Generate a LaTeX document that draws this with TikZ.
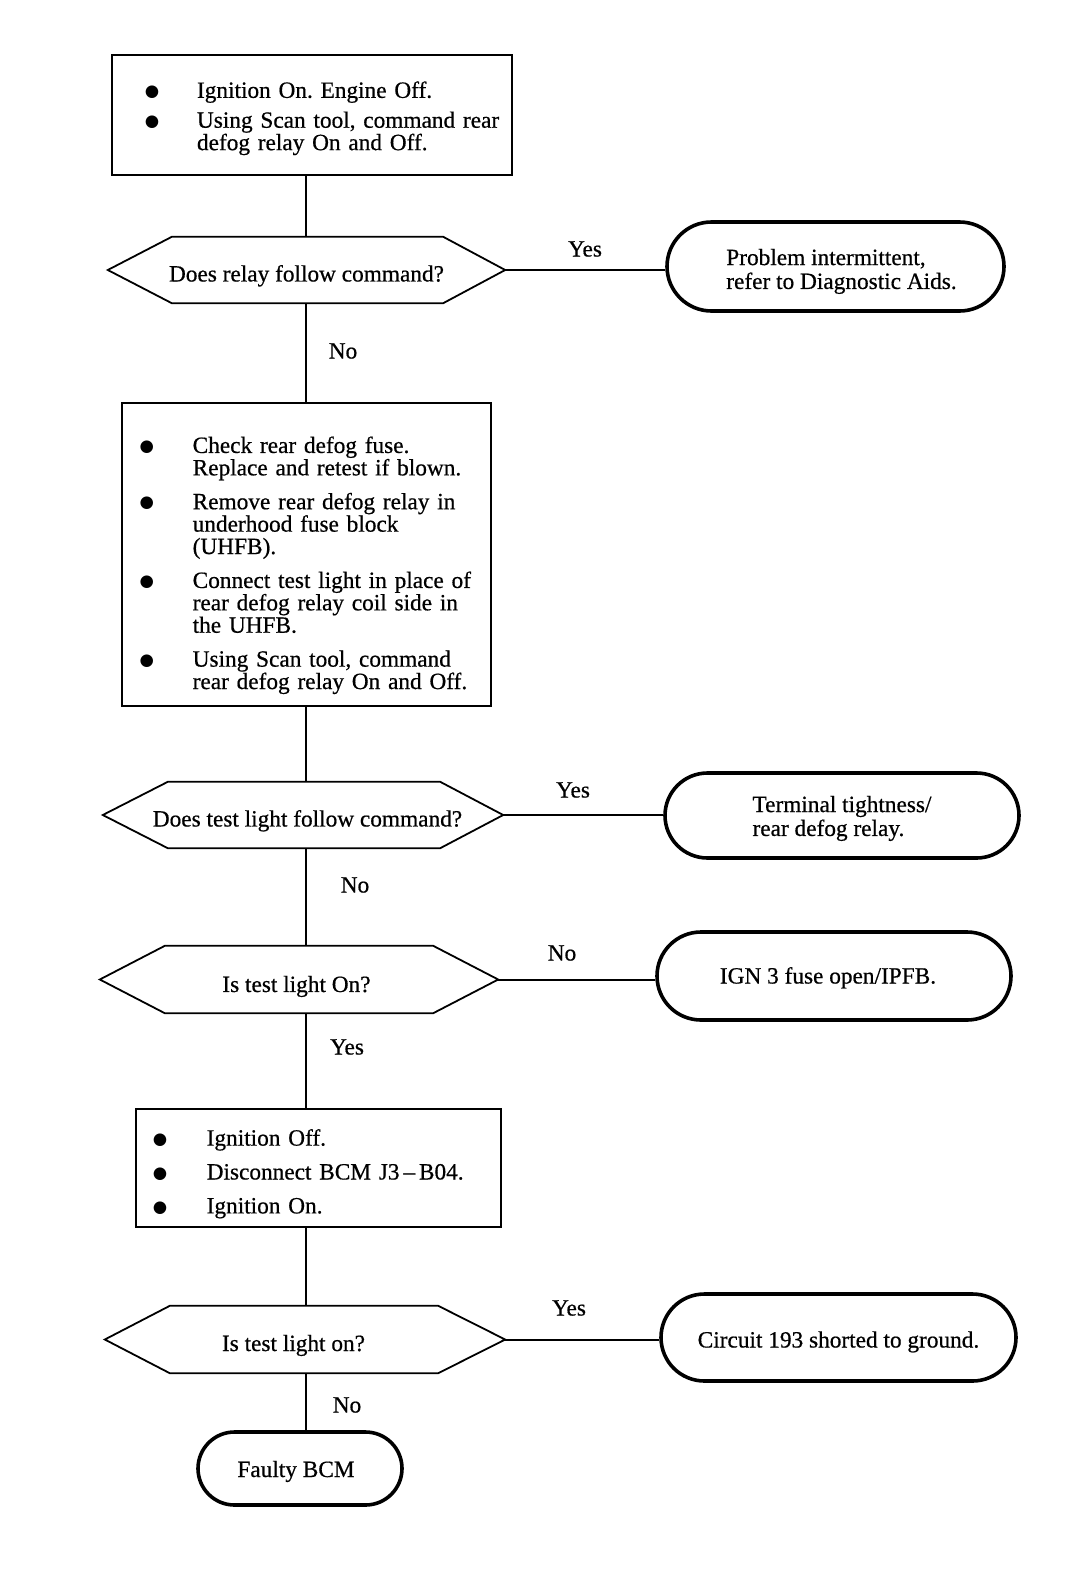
\documentclass[tikz,border=0pt]{standalone}
\usepackage{fontspec}
\setmainfont{Liberation Serif}[UprightFeatures={FakeBold=0.6}]
\newfontfamily\bulfont{DejaVu Sans}
\usetikzlibrary{shapes.misc,calc}
\frenchspacing
\newcommand{\bul}{\raisebox{\dimexpr 5.6pt-(\height-\depth)/2\relax}{\bulfont\fontsize{16.5}{16.5}\selectfont ●}}
% #1 distance to bullet centre, #2 distance from bullet centre to text
\newcommand{\bi}[2]{\hspace*{#1}\makebox[0pt]{\bul}\hspace*{#2}}
% lower the text of a node by #1
\newcommand{\dn}[1]{\rule{0pt}{\dimexpr 16pt+#1+#1\relax}}
\newcommand{\hexagonpath}[3]{%
  \draw[hexline] (#1.west) -- ([xshift=#2]#1.north west) -- ([xshift=-#3]#1.north east)
    -- (#1.east) -- ([xshift=-#3]#1.south east) -- ([xshift=#2]#1.south west) -- cycle;}
\tikzset{
  txt/.style={font=\fontsize{23.3}{22.4}\selectfont\frenchspacing},
  procbox/.style={txt, draw, line width=2.4pt, rectangle, inner xsep=2pt, inner ysep=0pt, align=left},
  hexnode/.style={txt, rectangle, draw=none, inner sep=0pt},
  hexline/.style={line width=1.8pt, line join=miter},
  term/.style={txt, rounded rectangle, draw, line width=3.6pt, inner sep=0pt},
  conn/.style={line width=2pt},
  lbl/.style={txt, inner sep=0pt},
}
\begin{document}
\begin{tikzpicture}[x=1pt,y=-1pt]
\useasboundingbox (0,0) rectangle (1088,1574);
\coordinate (spine) at (305.5,0);

% process boxes
\node[procbox, text width=396pt, minimum height=120pt] (b1) at (312,115)
 {\dn{3.5pt}\bi{38pt}{45pt}Ignition On. Engine Off.\\[7.5pt]
  \bi{38pt}{45pt}Using Scan tool, command rear\\
  \hspace*{83pt}defog relay On and Off.};

\node[procbox, text width=365pt, minimum height=303pt] (b2) at (306.5,554.5)
 {\dn{11pt}\bi{22.7pt}{46pt}Check rear defog fuse.\\
  \hspace*{68.7pt}Replace and retest if blown.\\[11.5pt]
  \bi{22.7pt}{46pt}Remove rear defog relay in\\
  \hspace*{68.7pt}underhood fuse block\\
  \hspace*{68.7pt}(UHFB).\\[11.5pt]
  \bi{22.7pt}{46pt}Connect test light in place of\\
  \hspace*{68.7pt}rear defog relay coil side in\\
  \hspace*{68.7pt}the UHFB.\\[11.5pt]
  \bi{22.7pt}{46pt}Using Scan tool, command\\
  \hspace*{68.7pt}rear defog relay On and Off.};

\node[procbox, text width=361pt, minimum height=118pt] (b3) at (318.5,1168)
 {\dn{6pt}\bi{22pt}{46.7pt}Ignition Off.\\[11.5pt]
  \bi{22pt}{46.7pt}Disconnect BCM J3\,--\,B04.\\[11.5pt]
  \bi{22pt}{46.7pt}Ignition On.};

% decisions
\node[hexnode, minimum width=397pt, minimum height=66pt] (d1) at (306.5,270) {\dn{6pt}Does relay follow command?};
\hexagonpath{d1}{64pt}{62pt}
\node[hexnode, minimum width=400pt, minimum height=66pt] (d2) at (303,815) {\dn{6pt}\kern9pt Does test light follow command?};
\hexagonpath{d2}{65pt}{63pt}
\node[hexnode, minimum width=398pt, minimum height=67pt] (d3) at (299,979.5) {\dn{7pt}Is test light On?\kern5pt};
\hexagonpath{d3}{65pt}{65pt}
\node[hexnode, minimum width=400pt, minimum height=67pt] (d4) at (305,1339.5) {\dn{6pt}Is test light on?\kern23pt};
\hexagonpath{d4}{65pt}{67pt}

% terminals
\node[term, align=left, minimum width=337pt, minimum height=89pt] (t1) at (835.5,266.5)
 {\dn{5pt}\hspace*{12pt}Problem intermittent,\\[1.5pt]\hspace*{12pt}refer to Diagnostic Aids.};
\node[term, align=left, minimum width=354pt, minimum height=85pt] (t2) at (842,815.5)
 {\dn{3pt}Terminal tightness/\\[1.5pt]rear defog relay.};
\node[term, minimum width=354pt, minimum height=88pt] (t3) at (834,976) {\dn{2pt}IGN 3 fuse open/IPFB.\kern12pt};
\node[term, minimum width=355pt, minimum height=87pt] (t4) at (838.5,1337.5) {\dn{4.5pt}Circuit 193 shorted to ground.};
\node[term, minimum width=204pt, minimum height=73pt] (t5) at (300,1468.5) {\dn{3pt}Faulty BCM\kern8pt};

% connectors
\draw[conn] (b1.south -| spine) -- (d1.north -| spine);
\draw[conn] (d1.south -| spine) -- (b2.north -| spine);
\draw[conn] (b2.south -| spine) -- (d2.north -| spine);
\draw[conn] (d2.south -| spine) -- (d3.north -| spine);
\draw[conn] (d3.south -| spine) -- (b3.north -| spine);
\draw[conn] (b3.south -| spine) -- (d4.north -| spine);
\draw[conn] (d4.south -| spine) -- (t5.north -| spine);
\draw[conn] (d1.east) -- (d1.east -| t1.west);
\draw[conn] (d2.east) -- (d2.east -| t2.west);
\draw[conn] (d3.east) -- (d3.east -| t3.west);
\draw[conn] (d4.east) -- (d4.east -| t4.west);

% labels
\node[lbl] (y1) at (585,249) {Yes};
\node[lbl] (n1) at (343,351) {No};
\node[lbl] (y2) at (573,790) {Yes};
\node[lbl] (n2) at (355,885) {No};
\node[lbl] (n3) at (562,953) {No};
\node[lbl] (y3) at (347,1047) {Yes};
\node[lbl] (y4) at (569,1308) {Yes};
\node[lbl] (n4) at (347,1405) {No};
\end{tikzpicture}
\end{document}
